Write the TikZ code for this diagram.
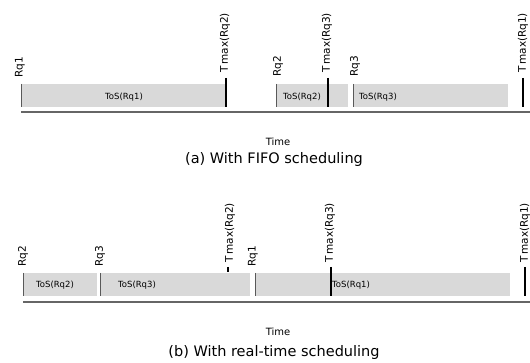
\documentclass[tikz,border=0pt]{standalone}
\usepackage{fontspec}
\setmainfont{DejaVu Sans}
\tikzset{
  job/.style={fill=black!15,draw=none},
  arrival/.style={draw=black!65,line width=0.8pt},
  deadline/.style={draw=black,line width=1.3pt},
  timeaxis/.style={draw=black!60,line width=1.5pt},
  vlabel/.style={rotate=90,anchor=west,inner sep=1pt,font=\fontsize{10.5}{12}\selectfont},
  joblabel/.style={inner sep=1pt,font=\fontsize{8.5}{10}\selectfont},
}
\begin{document}
\begin{tikzpicture}[x=1pt,y=-1pt]
        \useasboundingbox (0,0) rectangle (530,363);

        % (a) FIFO
        \fill[job] (21,84) rectangle (225,107);
        \fill[job] (276,84) rectangle (348,107);
        \fill[job] (353,84) rectangle (508,107);
        \draw[arrival] (21,84) -- (21,107);
        \draw[arrival] (276,84) -- (276,107);
        \draw[arrival] (353,84) -- (353,107);
        \draw[deadline] (226,78) -- (226,107);
        \draw[deadline] (328,78) -- (328,107);
        \draw[deadline] (523,78) -- (523,107);
        \draw[timeaxis] (21,112) -- (530,112);

        \node[vlabel] (rqa1) at (20,79) {Rq1};
        \node[vlabel] (rqa2) at (278,78) {Rq2};
        \node[vlabel] (rqa3) at (355,78) {Rq3};
        \node[vlabel] (tmaxa2) at (225,74) {T\,max(Rq2)};
        \node[vlabel] (tmaxa3) at (327,74) {T\,max(Rq3)};
        \node[vlabel] (tmaxa1) at (523,74) {T\,max(Rq1)};

        \node[joblabel] (tosa1) at (124,97) {ToS(Rq1)};
        \node[joblabel] (tosa2) at (302,97) {ToS(Rq2)};
        \node[joblabel] (tosa3) at (378,97) {ToS(Rq3)};

        \node[font=\fontsize{10}{12}\selectfont] (timea) at (278,142) {Time};
        \node[font=\fontsize{14.5}{17}\selectfont] (capa) at (274,160) {(a) With FIFO scheduling};

        % (b) real-time
        \fill[job] (23,273) rectangle (97,296);
        \fill[job] (100,273) rectangle (250,296);
        \fill[job] (255,273) rectangle (510,296);
        \draw[arrival] (23,273) -- (23,296);
        \draw[arrival] (100,273) -- (100,296);
        \draw[arrival] (255,273) -- (255,296);
        \draw[deadline] (228,267) -- (228,272);
        \draw[deadline] (331,267) -- (331,296);
        \draw[deadline] (525,267) -- (525,296);
        \draw[timeaxis] (23,302) -- (530,302);

        \node[vlabel] (rqb2) at (23,268) {Rq2};
        \node[vlabel] (rqb3) at (100,268) {Rq3};
        \node[vlabel] (rqb1) at (253,268) {Rq1};
        \node[vlabel] (tmaxb2) at (230,264) {T\,max(Rq2)};
        \node[vlabel] (tmaxb3) at (330,264) {T\,max(Rq3)};
        \node[vlabel] (tmaxb1) at (525,264) {T\,max(Rq1)};

        \node[joblabel] (tosb2) at (55,285) {ToS(Rq2)};
        \node[joblabel] (tosb3) at (137,285) {ToS(Rq3)};
        \node[joblabel,anchor=west] (tosb1) at (331,285) {ToS(Rq1)};

        \node[font=\fontsize{10}{12}\selectfont] (timeb) at (278,332) {Time};
        \node[font=\fontsize{14.5}{17}\selectfont] (capb) at (274,352) {(b) With real-time scheduling};
    \end{tikzpicture}
\end{document}
